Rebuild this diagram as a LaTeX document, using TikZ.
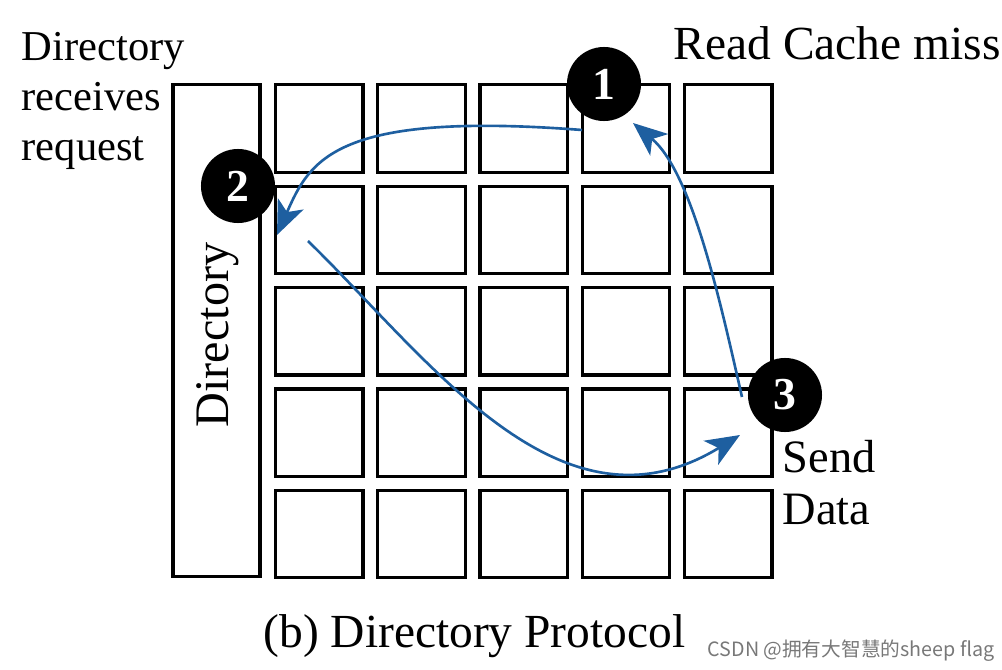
\documentclass[tikz,border=0pt]{standalone}
\usepackage{fontspec}
\setmainfont{Liberation Serif}
\newfontfamily\cjkfont{Noto Sans CJK SC}
\usepackage{xcolor}
\usepackage{tikz}
\usetikzlibrary{arrows.meta,positioning}
\definecolor{arrowblue}{RGB}{30,95,160}
\definecolor{markgray}{RGB}{120,120,120}

\begin{document}
\begin{tikzpicture}[x=0.01cm,y=-0.01cm,
    cell/.style={draw=black,line width=0.9pt,minimum width=8.75mm,
      minimum height=8.75mm,inner sep=0pt},
    dirbox/.style={draw=black,line width=0.9pt,minimum width=8.7mm,
      minimum height=49.1mm,inner sep=0pt},
    numdot/.style={circle,fill=black,minimum size=7.4mm,inner sep=0pt,
      text=white,font=\fontsize{13}{13}\selectfont\bfseries},
    lbl/.style={inner sep=0pt,align=left},
    flow/.style={-{Stealth[length=3.4mm,width=2.8mm,inset=0.9mm]},line width=0.75pt,
      draw=arrowblue}
  ]
    \useasboundingbox (0,0) rectangle (1002,670);
    % directory column and 5x5 tiles
    \node[dirbox] (dir) at (216.5,330.5) {};
    \node[rotate=90,inner sep=0pt,font=\fontsize{13.7}{14}\selectfont]
      (dirtext) at (218,335) {Directory};
    \foreach \r in {1,...,5}
      \foreach \c in {1,...,5}
        \node[cell] (cell-\r-\c) at ({319.25+102.25*(\c-1)},{128.5+101.4*(\r-1)}) {};
    % labels
    \node[lbl,anchor=north west,font=\fontsize{12.1}{14.2}\selectfont]
      (dirlbl) at (21,32) {Directory\\receives\\request};
    \node[lbl,anchor=base west,font=\fontsize{13.5}{14}\selectfont]
      (misslbl) at (673,60) {Read Cache miss};
    \node[lbl,anchor=north west,font=\fontsize{13.2}{14.7}\selectfont]
      (sendlbl) at (782,440) {Send\\Data};
    \node[lbl,anchor=base,font=\fontsize{13.5}{14}\selectfont]
      (caption) at (474.5,648) {(b) Directory Protocol};
    \node[lbl,anchor=base west,text=markgray,font=\cjkfont\fontsize{5.6}{6}\selectfont]
      (credit) at (707,657) {CSDN @拥有大智慧的sheep flag};
    % steps
    \node[numdot] (s1) at (604,84) {1};
    \node[numdot] (s2) at (238,186) {2};
    \node[numdot] (s3) at (785,395) {3};
    \draw[flow] ([shift={(-43,2)}]s3.center) .. controls +(-20,-87) and +(60,50) ..
      ([shift={(29,39)}]s1.center);
    \draw[flow] ([shift={(-22,46)}]s1.center) .. controls +(-247,-19) and +(33,-75) ..
      ([shift={(39,49)}]s2.center);
    \draw[flow] ([shift={(70,55)}]s2.center) .. controls +(122,119) and +(-180,110) ..
      ([shift={(-45,40)}]s3.center);
  \end{tikzpicture}
\end{document}
